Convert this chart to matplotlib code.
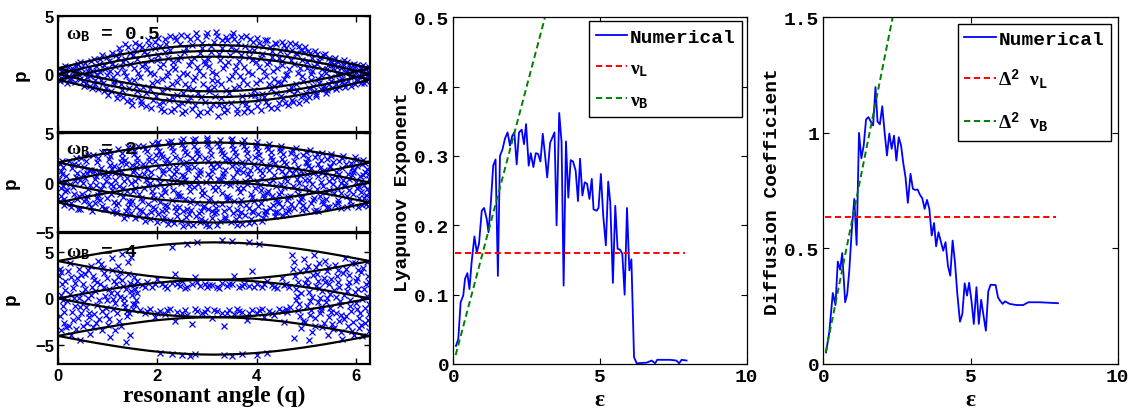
import numpy as np
import matplotlib
matplotlib.use("Agg")
import matplotlib.pyplot as plt

plt.rcParams['font.family'] = ['Liberation Mono', 'DejaVu Sans Mono']
plt.rcParams['font.weight'] = 'bold'
plt.rcParams['mathtext.fontset'] = 'custom'
plt.rcParams['mathtext.rm'] = 'Liberation Serif'
plt.rcParams['mathtext.it'] = 'Liberation Serif:italic'
plt.rcParams['mathtext.bf'] = 'Liberation Mono:bold'
plt.rcParams['mathtext.default'] = 'rm'

# ---- left panels: separatrix profile (half width vs resonant angle) ----
q_grid = [0, 0.26, 0.52, 0.79, 1.05, 1.31, 1.57, 1.83, 2.09, 2.36, 2.62, 2.88, 3.14,
          3.40, 3.67, 3.93, 4.19, 4.45, 4.71, 4.97, 5.24, 5.50, 5.76, 6.02, 6.28]
half_width = [0, 0.26, 0.52, 0.77, 1.0, 1.22, 1.41, 1.59, 1.73, 1.85, 1.93, 1.98, 2.0,
              1.98, 1.93, 1.85, 1.73, 1.59, 1.41, 1.22, 1.0, 0.77, 0.52, 0.26, 0]
omegas = [0.5, 2, 4]
omega_labels = ['0.5', '2', '4']

# scattered orbit points (q, p)
pts_w05 = [(0.02,0.45),(0.06,-0.35),(0.10,0.12),(0.04,-0.62),(0.14,0.68),
(0.22,-0.15),(0.28,0.52),(0.18,-0.8),(0.33,0.05),(0.25,-0.55),
(0.40,0.85),(0.45,-0.4),(0.38,0.3),(0.52,-1.05),(0.48,0.1),(0.56,-0.75),(0.44,1.05),
(0.62,0.55),(0.68,-1.2),(0.72,1.3),(0.65,-0.2),(0.78,0.0),(0.75,-0.9),(0.82,0.9),
(0.88,1.6),(0.92,-1.5),(0.95,0.4),(0.86,-0.5),(1.0,-1.8),(1.02,1.1),(0.98,-0.05),
(1.08,1.85),(1.12,-0.9),(1.15,0.7),(1.18,-2.1),(1.1,-0.25),(1.2,1.4),(1.22,2.2),
(1.28,-1.4),(1.32,0.2),(1.35,2.55),(1.38,-2.3),(1.3,1.0),(1.42,-0.6),(1.45,1.8),(1.48,-2.7),
(1.52,0.5),(1.55,2.7),(1.58,-1.0),(1.62,-2.0),(1.6,1.3),(1.66,-0.3),(1.7,2.3),(1.68,-2.6),
(1.75,0.9),(1.78,-1.6),(1.82,2.9),(1.85,0.1),(1.88,-2.9),(1.8,1.7),(1.9,-0.8),
(1.95,2.2),(1.98,-1.9),(2.02,3.1),(2.05,0.6),(2.08,-3.0),(2.0,1.2),(2.1,-0.4),(2.12,-2.4),
(2.18,2.6),(2.2,-1.2),(2.22,0.2),(2.25,3.3),(2.28,-3.2),(2.15,1.9),(2.3,-2.0),(2.32,1.0),
(2.38,2.9),(2.4,-0.7),(2.42,-2.7),(2.45,1.5),(2.48,3.4),(2.5,-3.4),(2.35,0.4),(2.52,-1.6),
(2.58,2.2),(2.6,0.0),(2.62,-2.3),(2.65,3.0),(2.68,1.1),(2.7,-3.0),(2.55,-0.9),(2.72,-1.3),
(2.78,3.5),(2.8,0.6),(2.82,-3.5),(2.85,1.8),(2.88,-2.0),(2.9,2.7),(2.75,-0.3),(2.92,-0.9),
(2.98,3.3),(3.0,-3.3),(3.02,1.3),(3.05,-1.5),(3.08,2.4),(3.1,0.2),(3.12,-2.6),(2.95,0.9),
(3.18,3.6),(3.2,-0.6),(3.22,-3.6),(3.25,1.7),(3.28,-2.1),(3.3,2.9),(3.15,-1.1),(3.32,0.5),
(3.38,3.2),(3.4,-3.1),(3.42,1.0),(3.45,-1.6),(3.48,2.3),(3.5,-0.2),(3.35,-2.8),(3.52,3.5),
(3.58,0.7),(3.6,-3.4),(3.62,2.7),(3.65,-1.0),(3.68,1.6),(3.7,-2.4),(3.55,3.0),(3.72,-0.5),
(3.78,3.3),(3.8,-2.9),(3.82,0.2),(3.85,2.0),(3.88,-1.8),(3.9,1.2),(3.75,-3.3),(3.92,2.8),
(3.98,-0.8),(4.0,3.1),(4.02,-2.2),(4.05,0.6),(4.08,-3.1),(4.1,1.7),(3.95,-1.4),(4.12,2.4),
(4.18,-0.2),(4.2,2.9),(4.22,-2.7),(4.25,1.0),(4.28,-1.3),(4.3,2.0),(4.15,-2.0),(4.32,0.3),
(4.38,2.6),(4.4,-2.9),(4.42,-0.7),(4.45,1.4),(4.48,-1.9),(4.5,2.8),(4.35,-1.0),(4.52,0.8),
(4.58,-2.5),(4.6,2.2),(4.62,0.0),(4.65,-1.4),(4.68,2.7),(4.7,1.2),(4.55,-0.4),(4.72,-2.2),
(4.78,2.6),(4.8,-0.9),(4.82,1.7),(4.85,-2.5),(4.88,0.5),(4.9,2.1),(4.75,-1.7),(4.92,-0.2),
(4.98,2.3),(5.0,-2.2),(5.02,1.0),(5.05,-1.2),(5.08,1.8),(5.1,-0.5),(4.95,-1.8),(5.12,0.3),
(5.18,2.0),(5.2,-1.9),(5.22,0.9),(5.25,-0.8),(5.28,1.5),(5.15,-1.5),(5.3,-0.1),
(5.38,1.7),(5.4,-1.6),(5.42,0.4),(5.45,-0.9),(5.48,1.1),(5.35,-1.3),(5.5,-0.3),
(5.58,1.4),(5.6,-1.3),(5.62,0.6),(5.65,-0.5),(5.55,0.9),(5.68,0.0),
(5.75,1.2),(5.78,-1.1),(5.8,0.3),(5.72,-0.7),(5.85,0.8),(5.88,-0.3),
(5.95,0.9),(5.98,-0.9),(6.0,0.2),(6.05,-0.5),(6.1,0.6),(6.12,-0.1),
(6.18,0.5),(6.2,-0.6),(6.24,0.15),(6.27,-0.3),(6.15,0.75),
(0.08,0.3),(0.12,-0.5),(0.16,0.0),(0.2,0.6),(0.24,-0.35),(0.3,0.25),(0.35,-0.7),(0.36,0.7),
(0.42,-0.1),(0.46,0.55),(0.5,-0.6),(0.54,0.95),(0.58,-0.3),(0.6,0.25),(0.64,-1.0),(0.66,1.1),
(0.7,0.3),(0.74,-0.5),(0.76,0.65),(0.8,-1.3),(0.84,0.2),(0.85,1.3),(0.9,-0.8),(0.93,0.8),
(0.96,-1.2),(0.99,1.5),(1.04,0.3),(1.06,-1.5),(1.09,0.9),(1.13,-0.6),(1.16,1.6),(1.19,0.1),
(1.21,-1.7),(1.24,1.9),(1.26,-0.9),(1.29,0.6),(1.31,-2.0),(1.34,1.3),(1.37,-0.2),(1.4,2.3),
(1.43,-1.2),(1.44,0.9),(1.47,-2.2),(1.5,1.6),(1.53,-0.5),(1.56,2.1),(1.59,-1.5),(1.61,0.1),
(1.64,2.5),(1.67,-2.3),(1.69,0.7),(1.72,-1.1),(1.74,1.9),(1.77,-2.8),(1.79,0.4),(1.83,2.5),
(1.86,-1.3),(1.87,1.2),(1.91,-2.2),(1.93,0.0),(1.96,2.8),(1.99,-0.6),(2.01,1.6),(2.04,-2.6),
(2.06,2.4),(2.09,-1.5),(2.11,0.9),(2.14,-3.2),(2.16,3.0),(2.19,-0.2),(2.21,1.4),(2.24,-2.2),
(2.26,2.1),(2.29,-0.9),(2.31,0.6),(2.34,-3.0),(2.36,3.2),(2.39,-1.8),(2.41,1.2),(2.44,-0.3),
(2.46,2.6),(2.49,-2.5),(2.51,0.1),(2.54,1.9),(2.56,-3.2),(2.59,3.3),(2.61,-1.1),(2.64,0.8),
(2.66,-2.0),(2.69,2.5),(2.71,-0.5),(2.74,1.4),(2.76,-2.7),(2.79,3.1),(2.81,-1.6),(2.84,0.3),
(2.86,-3.3),(2.89,2.2),(2.91,-0.1),(2.94,1.1),(2.96,-2.4),(2.99,3.5),(3.01,-1.2),(3.04,0.7),
(3.06,-3.0),(3.09,1.9),(3.11,-0.5),(3.14,2.8),(3.16,-1.9),(3.19,0.0),(3.21,3.3),(3.24,-2.7),
(3.26,1.2),(3.29,-0.9),(3.31,2.2),(3.34,-3.3),(3.36,0.8),(3.39,-1.4),(3.41,2.9),(3.44,-0.4),
(3.46,1.6),(3.49,-2.5),(3.51,3.3),(3.54,-1.2),(3.56,0.3),(3.59,2.1),(3.61,-3.0),(3.64,1.1),
(3.66,-0.2),(3.69,3.2),(3.71,-1.9),(3.74,0.6),(3.76,2.4),(3.79,-2.6),(3.81,-0.9),(3.84,1.5),
(3.86,3.0),(3.89,-3.2),(3.91,0.0),(3.94,2.1),(3.96,-1.8),(3.99,1.0),(4.01,-2.8),(4.04,2.7),
(4.06,-0.5),(4.09,1.4),(4.11,-1.7),(4.14,0.3),(4.16,2.9),(4.19,-2.4),(4.21,0.9),(4.24,-0.9),
(4.26,2.3),(4.29,-2.9),(4.31,1.5),(4.34,-0.4),(4.36,2.7),(4.39,-1.6),(4.41,0.5),(4.44,-2.5),
(4.46,2.0),(4.49,-0.8),(4.51,1.1),(4.54,-2.1),(4.56,2.5),(4.59,-0.1),(4.61,1.6),(4.64,-2.7),
(4.66,0.4),(4.69,-1.1),(4.71,2.1),(4.74,-2.4),(4.76,0.9),(4.79,1.8),(4.81,-1.4),(4.84,0.1),
(4.86,2.4),(4.89,-2.0),(4.91,1.2),(4.94,-0.6),(4.96,1.9),(4.99,-1.6),(5.01,0.5),(5.04,2.0),
(5.06,-2.0),(5.09,0.0),(5.11,1.4),(5.14,-1.0),(5.16,0.7),(5.19,-1.7),(5.21,1.7),(5.24,-0.4),
(5.26,1.1),(5.29,-1.3),(5.31,0.4),(5.34,1.6),(5.36,-1.0),(5.39,0.1),(5.41,-1.4),(5.44,0.8),
(5.46,1.4),(5.49,-0.6),(5.51,-1.2),(5.54,0.5),(5.56,1.2),(5.59,-0.9),(5.61,0.0),(5.64,1.0),
(5.66,-1.1),(5.69,0.5),(5.71,-0.4),(5.74,0.9),(5.76,-0.9),(5.79,0.1),(5.81,1.0),(5.84,-0.6),
(5.87,0.5),(5.9,-1.0),(5.92,0.2),(5.96,0.6),(5.99,-0.5),(6.02,0.8),(6.04,-0.2),(6.07,0.35),
(6.1,-0.75),(6.14,0.2),(6.16,-0.4),(6.21,0.4),(6.23,-0.15),(6.26,0.6),(6.17,-0.8)]

pts_w2 = [(0.03,1.9),(0.07,1.2),(0.02,0.4),(0.11,-0.3),(0.05,-1.3),(0.13,-2.2),(0.09,0.9),(0.15,-0.8),(0.04,-1.8),
(0.22,2.2),(0.29,1.5),(0.36,0.6),(0.24,-0.1),(0.33,-1.1),(0.39,-1.6),(0.27,-2.4),(0.41,1.8),(0.19,-0.7),(0.35,0.2),
(0.47,2.5),(0.53,1.6),(0.59,1.0),(0.51,0.0),(0.61,-0.6),(0.56,-1.6),(0.63,-2.1),(0.45,-2.6),(0.66,1.3),(0.49,-1.1),
(0.71,2.8),(0.79,2.1),(0.83,1.0),(0.74,0.4),(0.86,-0.6),(0.81,-1.2),(0.89,-2.3),(0.69,-2.9),(0.92,0.8),(0.77,-0.2),(0.84,-1.7),
(0.99,3.0),(1.03,2.4),(1.09,1.4),(1.01,0.7),(1.11,-0.3),(1.06,-1.1),(1.13,-1.9),(0.96,-2.6),(1.16,-3.0),(1.04,1.8),(0.97,0.2),
(1.21,3.4),(1.29,2.5),(1.36,1.9),(1.24,0.8),(1.33,0.2),(1.39,-0.8),(1.31,-1.4),(1.41,-2.4),(1.19,-3.1),(1.37,-3.3),(1.26,2.1),(1.23,-0.3),
(1.49,3.5),(1.53,2.9),(1.59,2.1),(1.51,1.1),(1.61,0.5),(1.56,-0.5),(1.63,-1.1),(1.45,-2.1),(1.66,-2.7),(1.54,-3.6),(1.58,1.6),(1.47,0.0),
(1.71,3.7),(1.79,3.2),(1.83,2.2),(1.74,1.6),(1.86,0.6),(1.81,-0.2),(1.89,-0.8),(1.69,-1.8),(1.91,-2.4),(1.77,-3.3),(1.85,-3.7),(1.73,0.9),
(1.99,4.0),(2.03,3.2),(2.09,2.6),(2.01,1.6),(2.11,1.0),(2.06,0.0),(2.13,-0.6),(1.94,-1.6),(2.16,-2.2),(2.02,-3.2),(2.11,-3.8),(1.97,2.8),(2.07,-1.2),
(2.21,4.1),(2.29,3.6),(2.36,2.6),(2.24,2.0),(2.33,0.9),(2.39,0.3),(2.31,-0.7),(2.41,-1.3),(2.19,-2.3),(2.37,-2.9),(2.26,-3.8),(2.34,-4.1),(2.23,1.4),
(2.47,4.2),(2.53,3.5),(2.59,2.9),(2.51,1.9),(2.61,1.3),(2.56,0.3),(2.63,-0.3),(2.45,-1.3),(2.66,-1.9),(2.52,-2.9),(2.58,-3.5),(2.61,-4.2),(2.49,0.8),
(2.71,4.3),(2.79,3.3),(2.83,2.7),(2.74,1.6),(2.86,1.0),(2.81,-0.1),(2.89,-0.7),(2.69,-1.7),(2.91,-2.4),(2.77,-3.4),(2.85,-4.0),(2.76,2.2),(2.88,-2.9),
(2.99,4.3),(3.03,3.8),(3.09,2.8),(3.01,2.2),(3.11,1.2),(3.06,0.6),(3.13,-0.4),(2.94,-1.0),(3.16,-2.0),(3.02,-2.6),(3.11,-3.6),(2.97,-4.3),(3.07,-1.5),
(3.21,4.0),(3.29,3.3),(3.36,2.3),(3.24,1.7),(3.33,0.7),(3.39,0.0),(3.31,-1.0),(3.41,-1.6),(3.19,-2.5),(3.37,-3.5),(3.26,-3.9),(3.34,2.8),(3.23,0.4),
(3.49,4.3),(3.53,3.4),(3.59,2.7),(3.51,1.7),(3.61,1.1),(3.56,0.1),(3.63,-0.5),(3.45,-1.5),(3.66,-2.1),(3.52,-3.1),(3.58,-3.7),(3.61,-4.3),(3.47,2.2),
(3.71,4.0),(3.79,3.4),(3.83,2.4),(3.74,1.7),(3.86,0.6),(3.81,-0.1),(3.89,-1.1),(3.69,-1.7),(3.91,-2.8),(3.77,-3.3),(3.85,-4.1),(3.73,1.1),
(3.99,3.8),(4.03,3.2),(4.09,2.2),(4.01,1.5),(4.11,0.5),(4.06,-0.2),(4.13,-1.2),(3.94,-1.8),(4.16,-2.8),(4.02,-3.2),(4.11,-3.9),(3.97,2.6),(4.08,-0.7),
(4.21,3.7),(4.29,3.1),(4.36,2.0),(4.24,1.3),(4.33,0.3),(4.39,-0.3),(4.31,-1.3),(4.41,-1.9),(4.19,-2.9),(4.37,-3.4),(4.26,1.8),(4.23,-0.8),
(4.47,3.5),(4.53,2.9),(4.59,1.9),(4.51,1.2),(4.61,0.2),(4.56,-0.4),(4.63,-1.4),(4.45,-2.0),(4.66,-2.6),(4.52,-3.3),(4.58,0.8),(4.49,-0.9),
(4.71,3.3),(4.79,2.7),(4.83,1.6),(4.74,1.0),(4.86,0.0),(4.81,-0.6),(4.89,-1.6),(4.69,-2.1),(4.91,-2.7),(4.77,1.4),(4.84,-1.1),
(4.99,3.1),(5.03,2.5),(5.09,1.5),(5.01,0.9),(5.11,-0.1),(5.06,-0.7),(5.13,-1.7),(4.94,-2.2),(5.16,-2.9),(5.02,2.0),(4.97,0.3),
(5.21,2.9),(5.29,2.3),(5.36,1.3),(5.24,0.7),(5.33,-0.3),(5.39,-0.9),(5.31,-1.8),(5.41,-2.4),(5.19,-2.7),(5.34,1.1),(5.27,-1.3),
(5.49,2.7),(5.53,2.1),(5.59,1.1),(5.51,0.5),(5.61,-0.5),(5.56,-1.0),(5.63,-2.0),(5.45,-2.4),(5.66,0.9),(5.47,1.6),
(5.71,2.5),(5.79,1.9),(5.83,0.9),(5.74,0.3),(5.86,-0.7),(5.81,-1.3),(5.89,-2.2),(5.69,-2.5),(5.91,1.5),(5.76,-0.2),
(5.99,2.3),(6.03,1.7),(6.09,0.7),(6.01,0.1),(6.11,-0.9),(6.06,-1.5),(6.13,-2.2),(5.94,1.1),(6.07,-0.4),
(6.19,2.0),(6.23,1.4),(6.27,0.4),(6.17,-0.2),(6.21,-1.2),(6.26,-1.8),(6.15,0.8),(6.24,-2.3),
(0.1,1.55),(0.14,0.1),(0.06,-0.55),(0.12,-1.6),(0.09,2.15),(0.16,-2.0),(0.17,0.65),
(0.32,1.85),(0.38,1.0),(0.3,-0.4),(0.42,-1.35),(0.26,-2.0),(0.44,0.3),(0.37,2.45),(0.4,-2.6),
(0.57,2.2),(0.62,1.3),(0.55,0.5),(0.64,-0.2),(0.58,-1.3),(0.52,-1.85),(0.67,-2.4),(0.6,2.8),(0.5,0.9),
(0.8,2.5),(0.86,1.5),(0.77,0.7),(0.9,-0.2),(0.83,-0.9),(0.74,-2.0),(0.92,-2.6),(0.88,3.1),(0.79,-1.5),(0.73,1.2),
(1.05,2.7),(1.12,1.7),(1.0,1.1),(1.14,0.3),(1.08,-0.7),(0.99,-1.5),(1.17,-2.2),(1.1,-2.8),(1.02,3.2),(1.15,1.0),(1.06,-0.1),
(1.28,3.0),(1.34,2.3),(1.22,1.5),(1.38,0.5),(1.3,-0.5),(1.25,-1.1),(1.42,-1.8),(1.36,-2.8),(1.2,-2.0),(1.27,1.2),(1.4,3.6),(1.33,-3.6),
(1.52,3.2),(1.6,2.5),(1.48,1.8),(1.63,0.8),(1.55,0.2),(1.5,-0.8),(1.67,-1.5),(1.58,-2.4),(1.46,-3.1),(1.64,-3.4),(1.53,1.3),(1.61,3.7),(1.49,-1.8),
(1.76,3.4),(1.84,2.6),(1.72,1.9),(1.88,1.1),(1.78,0.3),(1.73,-0.5),(1.92,-1.2),(1.82,-2.1),(1.7,-2.8),(1.87,-3.0),(1.8,1.4),(1.9,3.9),(1.75,-3.9),(1.86,0.0),
(2.0,3.6),(2.08,2.9),(1.96,2.2),(2.12,1.3),(2.04,0.5),(1.98,-0.3),(2.16,-0.9),(2.06,-1.9),(1.95,-2.6),(2.14,-3.5),(2.02,4.1),(2.1,-2.9),(2.0,-4.0),(2.15,2.0),
(2.25,3.8),(2.32,3.2),(2.2,2.4),(2.38,1.6),(2.28,0.6),(2.23,-0.1),(2.42,-1.0),(2.3,-1.7),(2.18,-2.7),(2.4,-3.4),(2.27,4.2),(2.35,-2.4),(2.22,-4.2),(2.37,1.2),
(2.5,3.9),(2.56,3.1),(2.46,2.4),(2.62,1.6),(2.53,0.7),(2.48,0.0),(2.66,-0.8),(2.55,-1.6),(2.44,-2.4),(2.64,-3.2),(2.51,4.4),(2.6,-2.6),(2.47,-3.9),(2.58,2.1),(2.52,-4.4),
(2.74,3.7),(2.8,3.0),(2.7,2.5),(2.86,1.3),(2.77,0.5),(2.73,-0.4),(2.9,-1.2),(2.79,-2.0),(2.68,-2.7),(2.88,-3.7),(2.75,4.4),(2.84,-3.1),(2.72,-4.3),(2.82,0.8),
(3.0,4.0),(3.06,3.3),(2.96,2.5),(3.12,1.6),(3.03,0.9),(2.98,0.1),(3.16,-0.7),(3.05,-1.8),(2.94,-2.3),(3.14,-3.1),(3.0,4.5),(3.1,-2.8),(2.96,-3.9),(3.08,1.9),(3.04,-4.4),
(3.24,3.7),(3.31,3.0),(3.2,2.0),(3.37,1.3),(3.28,0.3),(3.22,-0.4),(3.4,-1.3),(3.3,-2.1),(3.18,-3.0),(3.36,-3.7),(3.26,4.3),(3.34,-2.8),(3.21,-4.3),(3.32,1.0),
(3.5,3.8),(3.56,3.1),(3.45,2.4),(3.62,1.4),(3.53,0.6),(3.47,-0.2),(3.66,-0.9),(3.55,-1.8),(3.44,-2.5),(3.64,-3.4),(3.51,4.4),(3.6,-2.7),(3.48,-4.0),(3.58,2.0),
(3.74,3.7),(3.8,3.0),(3.7,2.1),(3.86,1.3),(3.77,0.2),(3.72,-0.5),(3.9,-1.4),(3.79,-2.2),(3.68,-3.0),(3.88,-3.7),(3.75,4.3),(3.84,-2.5),(3.71,-4.2),(3.82,0.9),
(3.98,3.5),(4.04,2.8),(3.94,1.9),(4.1,1.0),(4.01,0.2),(3.96,-0.5),(4.14,-1.5),(4.03,-2.3),(3.92,-3.0),(4.12,-3.6),(4.0,4.1),(4.08,-2.0),(3.95,-4.0),(4.06,1.3),
(4.22,3.4),(4.28,2.6),(4.18,1.6),(4.34,0.8),(4.25,0.0),(4.2,-1.0),(4.38,-1.6),(4.27,-2.5),(4.16,-3.2),(4.36,-3.0),(4.24,3.9),(4.32,-2.2),(4.3,2.3),
(4.46,3.2),(4.52,2.4),(4.42,1.5),(4.58,0.5),(4.49,-0.1),(4.44,-1.1),(4.62,-1.7),(4.51,-2.4),(4.4,-3.0),(4.6,-3.1),(4.48,3.7),(4.56,2.1),
(4.7,3.0),(4.76,2.2),(4.66,1.3),(4.82,0.4),(4.73,-0.3),(4.68,-1.3),(4.86,-1.9),(4.75,-2.5),(4.64,-2.9),(4.8,3.5),(4.88,0.8),
(4.94,2.8),(5.0,2.1),(4.9,1.2),(5.06,0.3),(4.97,-0.4),(4.92,-1.4),(5.1,-2.0),(4.99,-2.6),(5.08,3.3),(5.04,1.7),
(5.18,2.6),(5.24,1.9),(5.14,1.0),(5.3,0.1),(5.21,-0.6),(5.16,-1.5),(5.34,-2.1),(5.23,-2.9),(5.32,3.0),(5.28,1.5),
(5.42,2.4),(5.48,1.7),(5.38,0.8),(5.54,-0.1),(5.45,-0.7),(5.4,-1.6),(5.58,-2.2),(5.5,2.9),(5.46,0.2),
(5.66,2.2),(5.72,1.5),(5.62,0.6),(5.78,-0.3),(5.69,-1.0),(5.64,-1.7),(5.82,-2.4),(5.74,2.7),(5.7,0.0),
(5.9,2.0),(5.96,1.3),(5.86,0.4),(6.02,-0.5),(5.93,-1.1),(5.88,-1.8),(6.04,-2.4),(5.98,2.6),(5.92,0.8),
(6.12,1.9),(6.18,1.1),(6.1,0.2),(6.22,-0.6),(6.16,-1.5),(6.2,-2.1),(6.14,2.3),(6.26,0.9),(6.28,-1.0)]

pts_w4 = [(0.03,3.2),(0.08,1.5),(0.05,0.4),(0.1,-0.8),(0.04,-1.9),(0.12,-2.6),(0.07,-3.4),(0.02,2.4),(0.14,0.9),
(0.2,2.9),(0.25,3.8),(0.18,-0.3),(0.28,-1.4),(0.22,-2.9),(0.3,1.1),(0.26,-3.9),(0.32,0.1),
(0.38,2.2),(0.42,3.1),(0.45,-0.9),(0.4,-2.1),(0.48,0.6),(0.36,-3.3),(0.5,1.6),(0.44,-4.4),
(0.55,2.6),(0.6,0.0),(0.62,-1.6),(0.58,-2.6),(0.66,3.5),(0.52,-0.4),(0.68,1.2),(0.64,-3.8),
(0.72,2.0),(0.78,-0.7),(0.75,0.8),(0.82,-2.2),(0.8,4.0),(0.7,-3.1),(0.85,1.5),(0.88,-1.3),
(0.92,2.7),(0.95,0.3),(0.98,-0.2),(1.0,-2.8),(0.9,3.3),(1.02,1.0),(1.05,-4.1),(0.97,-1.8),
(1.08,4.3),(1.12,1.9),(1.15,-0.5),(1.18,0.6),(1.1,-1.1),(1.2,2.3),(1.22,-2.4),(1.14,-3.4),
(1.28,4.8),(1.3,1.3),(1.32,0.0),(1.35,-0.9),(1.25,2.8),(1.38,-1.9),(1.4,3.9),(1.36,-4.6),
(1.45,1.7),(1.48,0.4),(1.5,-0.6),(1.52,2.3),(1.42,-1.5),(1.55,1.0),(1.58,-0.2),(1.46,4.4),
(0.06,2.8),(0.1,-0.2),(0.13,-1.4),(0.15,1.9),(0.16,-3.0),(0.24,0.5),(0.27,2.3),(0.3,-2.3),
(0.34,-0.8),(0.35,1.7),(0.43,0.0),(0.46,2.5),(0.47,-1.5),(0.5,-2.9),(0.54,1.0),(0.57,-0.9),
(0.6,3.0),(0.63,-2.0),(0.67,0.4),(0.7,2.4),(0.73,-1.7),(0.76,-2.6),(0.79,1.8),(0.83,-0.2),
(0.86,3.7),(0.89,-3.4),(0.93,1.2),(0.96,-1.0),(0.99,2.2),(1.03,-2.2),(1.06,0.6),(1.09,3.0),
(1.11,-0.1),(1.16,1.5),(1.19,-1.6),(1.21,3.5),(1.24,0.2),(1.27,-2.9),(1.29,2.0),(1.33,-0.5),
(1.37,1.0),(1.39,-1.3),(1.41,2.6),(1.44,-3.9),(1.47,0.8),(1.5,-1.1),(1.53,1.4),(1.56,-0.6),
(1.59,0.6),(1.6,1.9),
(1.7,1.4),(1.8,1.8),(1.9,1.2),(2.0,2.1),(2.1,1.5),(2.2,1.1),(2.3,1.7),(2.35,2.6),(2.45,1.3),
(2.5,1.9),(2.6,1.2),(2.7,1.5),(2.75,2.3),(2.85,1.3),(2.95,1.6),(3.0,1.2),(3.1,1.4),(3.2,1.2),
(3.3,1.7),(3.4,1.3),(3.5,1.5),(3.55,2.4),(3.65,1.2),(3.75,1.6),(3.85,1.3),(3.9,2.9),(4.0,1.5),
(4.1,1.2),(4.2,1.9),(4.3,1.4),(4.4,1.1),(4.5,2.2),(4.6,1.6),(4.65,1.2),
(1.75,1.2),(1.95,1.5),(2.15,1.3),(2.4,1.6),(2.55,1.1),(2.8,1.8),(3.05,1.4),(3.25,1.1),
(3.45,1.6),(3.7,1.3),(3.95,1.2),(4.15,1.6),(4.35,1.2),(4.55,1.4),
(1.65,-1.2),(1.75,-1.6),(1.85,-1.1),(1.95,-2.0),(2.05,-1.3),(2.15,-1.7),(2.25,-1.1),(2.35,-2.4),
(2.4,-1.4),(2.55,-1.2),(2.6,-1.8),(2.7,-2.7),(2.8,-1.3),(2.9,-1.6),(3.0,-1.1),(3.1,-2.1),
(3.2,-1.3),(3.3,-1.5),(3.35,-2.9),(3.45,-1.2),(3.55,-1.7),(3.6,-1.1),(3.7,-1.4),(3.8,-2.3),
(3.9,-1.2),(4.0,-1.6),(4.1,-1.1),(4.15,-2.0),(4.25,-1.3),(4.35,-1.8),(4.45,-1.1),(4.55,-2.5),
(4.62,-1.4),(4.68,-0.9),
(1.8,-1.3),(2.0,-1.5),(2.2,-1.2),(2.5,-1.6),(2.75,-1.1),(2.95,-1.4),(3.15,-1.2),(3.4,-1.6),
(3.65,-1.3),(3.85,-1.5),(4.05,-1.2),(4.3,-1.5),(4.5,-1.3),(4.6,-1.1),
(2.3,5.5),(2.6,5.8),(2.8,6.0),(3.3,6.2),(3.5,6.1),(3.85,6.0),(4.05,5.8),
(2.05,-5.8),(2.3,-5.9),(2.5,-6.0),(2.65,-6.1),(2.75,-5.9),(3.35,-6.0),(3.5,-6.1),(3.7,-5.9),(4.0,-6.0),(4.2,-5.8),
(4.72,4.6),(4.75,3.9),(4.78,2.4),(4.8,1.0),(4.82,0.3),(4.85,-0.6),(4.88,-1.9),(4.9,-3.2),(4.76,-4.2),(4.84,1.8),
(4.95,4.2),(5.0,3.0),(5.02,2.1),(5.05,0.7),(5.08,-0.3),(5.1,-1.2),(4.98,-2.5),(5.12,-3.6),(5.04,1.4),(5.06,-4.4),
(5.15,4.6),(5.2,3.4),(5.22,2.6),(5.25,1.1),(5.28,0.0),(5.3,-0.9),(5.18,-2.1),(5.32,-3.0),(5.24,1.9),(5.27,-1.6),
(5.38,4.0),(5.42,2.9),(5.45,1.5),(5.48,0.5),(5.4,-0.4),(5.5,-1.4),(5.52,-2.7),(5.44,-3.9),(5.36,2.2),(5.46,-2.0),
(5.58,3.6),(5.62,2.4),(5.65,1.2),(5.6,0.2),(5.68,-0.7),(5.7,-1.8),(5.55,-3.2),(5.72,-4.3),(5.64,3.0),(5.66,-2.4),
(5.78,4.3),(5.8,3.2),(5.85,1.8),(5.82,0.8),(5.88,-0.2),(5.9,-1.3),(5.75,-2.2),(5.92,-3.5),(5.86,2.5),(5.84,-2.9),
(5.98,3.8),(6.02,2.2),(6.05,1.0),(6.0,-0.5),(6.08,-1.6),(6.1,-2.8),(5.95,-3.9),(6.04,3.0),(6.06,-2.1),
(6.15,3.3),(6.2,1.5),(6.22,0.3),(6.18,-1.0),(6.25,-2.3),(6.27,-3.5),(6.12,-4.0),(6.24,2.4),(6.26,-1.7),
(4.74,3.1),(4.79,-0.2),(4.83,-1.2),(4.87,2.9),(4.9,0.6),(4.93,-2.4),(4.97,1.7),(5.01,-0.8),
(5.03,3.5),(5.07,-1.8),(5.11,0.2),(5.14,2.5),(5.17,-2.9),(5.19,1.3),(5.23,-0.4),(5.26,3.8),
(5.29,-1.2),(5.31,0.8),(5.35,-2.6),(5.37,1.8),(5.41,0.1),(5.43,3.4),(5.47,-1.0),(5.5,2.1),
(5.53,-3.3),(5.56,0.9),(5.59,-1.5),(5.63,1.8),(5.67,-0.3),(5.69,-3.6),(5.73,2.7),(5.76,0.4),
(5.79,-1.9),(5.83,1.3),(5.87,-0.8),(5.91,3.8),(5.94,-2.5),(5.97,0.7),(6.0,1.9),(6.03,-1.1),
(6.07,-3.2),(6.11,2.8),(6.13,-0.1),(6.17,1.0),(6.19,-2.6),(6.23,3.9),(6.26,-0.6),(6.27,1.8)]

# ---- middle panel: Lyapunov exponent ----
eps_lyap = [0.09,0.17,0.25,0.34,0.40,0.48,0.55,0.625,0.72,0.80,0.875,0.97,1.05,1.14,1.20,1.28,1.36,1.44,
            1.52,1.59,1.68,1.76,1.85,1.93,2.01,2.08,2.16,2.24,2.33,2.41,2.48,2.57,2.64,2.73,2.81,2.89,
            2.97,3.05,3.13,3.20,3.30,3.38,3.45,3.52,3.61,3.69,3.76,3.84,3.92,4.00,4.08,4.17,4.25,4.32,
            4.40,4.48,4.56,4.64,4.72,4.78,4.88,4.95,5.03,5.11,5.20,5.28,5.35,5.44,5.52,5.60,5.68,5.76,
            5.84,5.92,6.00,6.07,6.16,6.25,6.60,6.76,6.88,6.95,7.39,7.60,7.70,7.78,7.95]
lyap = [0.026,0.036,0.089,0.099,0.123,0.131,0.108,0.147,0.184,0.161,0.173,0.221,0.225,0.209,0.190,0.233,0.286,0.295,
        0.127,0.300,0.310,0.325,0.334,0.315,0.329,0.334,0.288,0.334,0.338,0.317,0.346,0.286,0.304,0.284,0.304,0.303,
        0.292,0.332,0.300,0.269,0.319,0.327,0.334,0.200,0.362,0.320,0.113,0.321,0.240,0.294,0.292,0.279,0.235,0.296,
        0.243,0.262,0.260,0.238,0.267,0.223,0.221,0.225,0.274,0.214,0.171,0.263,0.233,0.117,0.228,0.166,0.165,0.159,
        0.100,0.225,0.135,0.151,0.010,0.001,0.002,0.005,0.001,0.006,0.006,0.005,0.001,0.006,0.005]
eps_L = [0.05, 7.9]
nu_L = [0.16, 0.16]
eps_B = [0.08, 8.0]
nu_B = [0.0128, 1.28]

# ---- right panel: diffusion coefficient ----
eps_diff = [0.09,0.20,0.32,0.41,0.49,0.57,0.64,0.74,0.81,0.88,0.96,1.05,1.13,1.21,1.29,1.37,1.45,1.53,1.61,1.69,
            1.77,1.84,1.92,2.00,2.08,2.16,2.24,2.32,2.40,2.48,2.56,2.64,2.71,2.79,2.87,2.96,3.04,3.12,3.20,3.28,
            3.36,3.44,3.52,3.60,3.68,3.76,3.83,3.91,3.99,4.07,4.15,4.23,4.31,4.39,4.47,4.55,4.64,4.72,4.80,4.88,
            4.95,5.03,5.11,5.20,5.28,5.36,5.44,5.52,5.60,5.68,5.76,5.85,5.93,6.00,6.09,6.17,6.33,6.56,6.79,6.96,
            7.35,7.97]
diff = [0.05,0.137,0.307,0.255,0.443,0.408,0.48,0.267,0.303,0.404,0.57,0.714,0.515,1.0,0.89,0.945,1.058,1.068,1.049,1.032,
        1.198,1.049,1.037,1.115,1.003,0.902,0.997,0.931,0.988,0.88,0.981,0.945,0.873,0.808,0.697,0.823,0.758,0.753,0.755,0.732,
        0.717,0.671,0.71,0.671,0.556,0.61,0.509,0.57,0.53,0.49,0.527,0.426,0.382,0.534,0.44,0.303,0.183,0.216,0.349,0.296,
        0.351,0.274,0.173,0.332,0.173,0.278,0.209,0.144,0.313,0.343,0.342,0.342,0.289,0.274,0.26,0.271,0.26,0.255,0.255,0.267,
        0.267,0.263]
diff_L = [0.635, 0.635]
diff_B = [0.051, 5.1]

BLUE = '#0000ff'
RED = '#ff0000'
GREEN = '#008000'
DASH = (0, (3.2, 1.9))

fig = plt.figure(figsize=(11.31, 4.14), dpi=100)

# left column of three phase portraits
left_boxes = [[0.0513, 0.6787, 0.2759, 0.2802],
              [0.0513, 0.4360, 0.2759, 0.2415],
              [0.0513, 0.1184, 0.2759, 0.3164]]
left_ylims = [(-5, 5), (-5, 5), (-7, 7)]
left_yticks = [[0, 5], [-5, 0, 5], [-5, 0, 5]]
scatter_sets = [pts_w05, pts_w2, pts_w4]
sans_bold = {'family': 'Liberation Sans', 'weight': 'bold', 'size': 12}

qg = np.array(q_grid)
hw = np.array(half_width)
for i in range(3):
    ax = fig.add_axes(left_boxes[i])
    pts = np.array(scatter_sets[i])
    ax.plot(pts[:, 0], pts[:, 1], 'x', color=BLUE, ms=5.0, mew=0.9, zorder=2)
    w = omegas[i]
    for c in [-w, 0, w]:
        ax.plot(qg, c + hw, 'k-', lw=1.6, zorder=3)
        ax.plot(qg, c - hw, 'k-', lw=1.6, zorder=3)
    ax.set_xlim(0, 2 * np.pi)
    ax.set_ylim(*left_ylims[i])
    ax.set_xticks([0, 2, 4, 6])
    ax.set_yticks(left_yticks[i])
    ax.tick_params(direction='in', top=True, right=True, length=4, width=1, pad=3)
    for lab in ax.get_yticklabels() + ax.get_xticklabels():
        lab.set_fontproperties(sans_bold)
    if i < 2:
        ax.set_xticklabels([])
    for s in ax.spines.values():
        s.set_linewidth(1.6)
    ax.set_ylabel('p', fontsize=14, fontweight='bold', labelpad=11)
    ax.text(0.025, 0.93, r'$\omega_\mathbf{B}$ = ' + omega_labels[i], transform=ax.transAxes,
            ha='left', va='top', fontsize=14, fontweight='bold', zorder=5)
    if i == 2:
        ax.set_xlabel('resonant angle (q)', family='Liberation Serif', fontweight='bold',
                      fontsize=17, labelpad=1)

def style_right(ax, ylim, yticks, ylabels):
    ax.set_xlim(0, 10)
    ax.set_ylim(*ylim)
    ax.set_xticks([0, 5, 10])
    ax.set_xticklabels(['0', '5', '10'])
    ax.set_yticks(yticks)
    ax.set_yticklabels(ylabels)
    ax.tick_params(direction='in', top=True, right=True, length=4, width=0.8,
                   labelsize=14, pad=3)
    for s in ax.spines.values():
        s.set_linewidth(0.9)
    ax.set_xlabel(r'$\epsilon$', fontsize=17, labelpad=1)

# middle: Lyapunov exponent
ax2 = fig.add_axes([0.4008, 0.1184, 0.2594, 0.8374])
ax2.plot(eps_lyap, lyap, color=BLUE, lw=1.3, label='Numerical')
ax2.plot(eps_L, nu_L, color=RED, lw=1.4, ls=DASH, label=r'$\nu_\mathbf{L}$')
ax2.plot(eps_B, nu_B, color=GREEN, lw=1.4, ls=DASH, label=r'$\nu_\mathbf{B}$')
style_right(ax2, (0, 0.5), [0, 0.1, 0.2, 0.3, 0.4, 0.5], ['0', '0.1', '0.2', '0.3', '0.4', '0.5'])
ax2.set_ylabel('Lyapunov Exponent', fontsize=14, fontweight='bold', labelpad=2)
leg = ax2.legend(loc='upper right', bbox_to_anchor=(0.985, 0.988), fancybox=False,
                 edgecolor='black', framealpha=1, fontsize=14, handlelength=1.6,
                 handletextpad=0.15, labelspacing=0.7, borderpad=0.35, borderaxespad=0)
leg.get_frame().set_linewidth(1.0)

# right: diffusion coefficient
ax3 = fig.add_axes([0.7280, 0.1184, 0.2603, 0.8374])
ax3.plot(eps_diff, diff, color=BLUE, lw=1.3, label='Numerical')
ax3.plot(eps_L, diff_L, color=RED, lw=1.4, ls=DASH, label=r'$\Delta^\mathbf{2}\ \ \nu_\mathbf{L}$')
ax3.plot(eps_B, diff_B, color=GREEN, lw=1.4, ls=DASH, label=r'$\Delta^\mathbf{2}\ \ \nu_\mathbf{B}$')
style_right(ax3, (0, 1.5), [0, 0.5, 1, 1.5], ['0', '0.5', '1', '1.5'])
ax3.set_ylabel('Diffusion Coefficient', fontsize=14, fontweight='bold', labelpad=2)
leg = ax3.legend(loc='upper right', bbox_to_anchor=(0.977, 0.981), fancybox=False,
                 edgecolor='black', framealpha=1, fontsize=14, handlelength=1.6,
                 handletextpad=0.15, labelspacing=0.95, borderpad=0.35, borderaxespad=0)
leg.get_frame().set_linewidth(1.0)

fig.savefig('out.png', dpi=100)
